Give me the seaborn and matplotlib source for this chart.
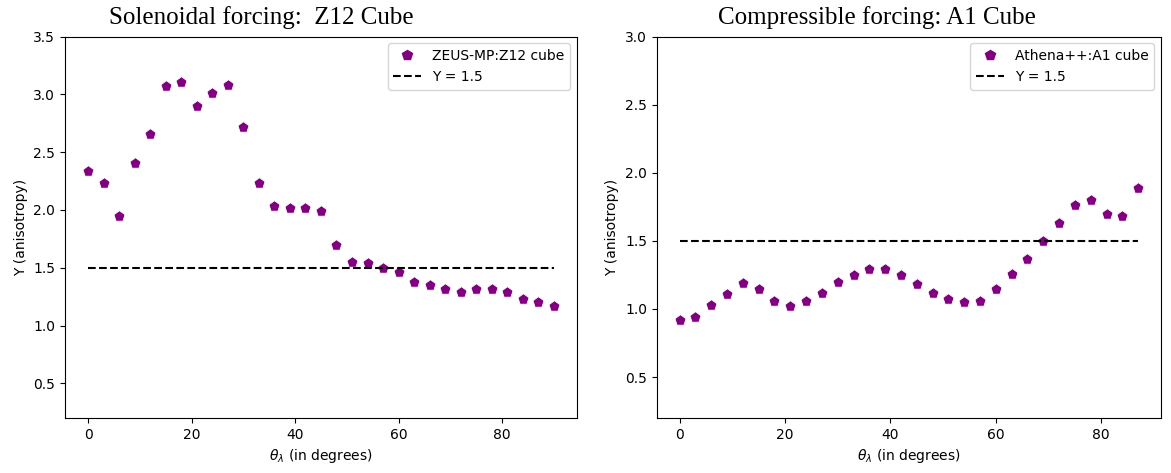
import numpy as np
import pandas as pd
import seaborn as sns
import matplotlib.pyplot as plt
from matplotlib.lines import Line2D

# angles (degrees)
theta_z12 = list(range(0, 91, 3))
theta_a1 = list(range(0, 88, 3))

# anisotropy values
aniso_z12 = [2.34, 2.23, 1.95, 2.41, 2.66, 3.07, 3.11, 2.90, 3.01, 3.08,
             2.72, 2.23, 2.03, 2.02, 2.02, 1.99, 1.70, 1.55, 1.54, 1.50,
             1.46, 1.38, 1.35, 1.32, 1.29, 1.32, 1.32, 1.29, 1.23, 1.20, 1.17]
aniso_a1 = [0.92, 0.94, 1.03, 1.11, 1.19, 1.15, 1.06, 1.02, 1.06, 1.12,
            1.20, 1.25, 1.29, 1.29, 1.25, 1.18, 1.12, 1.07, 1.05, 1.06,
            1.15, 1.26, 1.37, 1.50, 1.63, 1.76, 1.80, 1.70, 1.68, 1.89]

y_ref = 1.5
titles = ["Solenoidal forcing:  Z12 Cube", "Compressible forcing: A1 Cube"]
labels = ["ZEUS-MP:Z12 cube", "Athena++:A1 cube"]
ylims = [(0.2, 3.5), (0.2, 3.0)]

fig = plt.figure(figsize=(11.71, 4.73), dpi=100)
ax1 = fig.add_axes([0.0555, 0.1163, 0.4372, 0.8065])
ax2 = fig.add_axes([0.5608, 0.1163, 0.4307, 0.8065])

panels = [(ax1, theta_z12, aniso_z12), (ax2, theta_a1, aniso_a1)]
for i, (ax, th, y) in enumerate(panels):
    df = pd.DataFrame({"theta": th, "Y": y})
    sns.scatterplot(data=df, x="theta", y="Y", ax=ax, marker="p", color="purple",
                    s=70, edgecolor="white", linewidth=0.6)
    ref = pd.DataFrame({"theta": [th[0], th[-1]], "Y": [y_ref, y_ref]})
    sns.lineplot(data=ref, x="theta", y="Y", ax=ax, color="black", linestyle="--",
                 linewidth=1.5)
    ax.set_ylim(*ylims[i])
    ax.set_xlabel(r"$\theta_\lambda$ (in degrees)")
    ax.set_ylabel("Y (anisotropy)")
    handles = [
        Line2D([], [], marker="p", color="purple", linestyle="none", markersize=7),
        Line2D([], [], color="black", linestyle="--", linewidth=1.5),
    ]
    ax.legend(handles, [labels[i], f"Y = {y_ref}"], loc="upper right")

fig.text(0.223, 0.963, titles[0], ha="center", va="center",
         family="Liberation Serif", fontsize=18)
fig.text(0.749, 0.963, titles[1], ha="center", va="center",
         family="Liberation Serif", fontsize=18)

fig.savefig("out.png", dpi=100)
